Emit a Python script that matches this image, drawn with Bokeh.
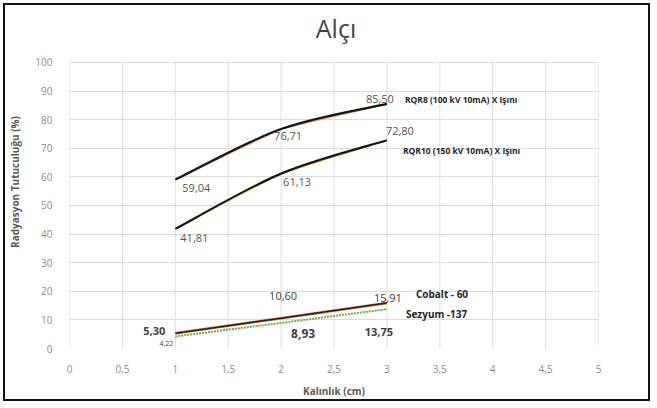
from bokeh.plotting import figure
from bokeh.models import ColumnDataSource, FixedTicker
from bokeh.core.properties import value
from bokeh.embed import file_html
from bokeh.resources import INLINE

# ---- data ----
title_text = "Alçı"
x_label = "Kalınlık (cm)"
y_label = "Radyasyon Tutuculuğu (%)"
thickness_cm = [1, 2, 3]
rqr8 = [59.04, 76.71, 85.50]
rqr10 = [41.81, 61.13, 72.80]
cobalt = [5.30, 10.60, 15.91]
sezyum = [4.22, 8.93, 13.75]
series_names = ["RQR8 (100 kV 10mA) X Işını", "RQR10 (150 kV 10mA) X Işını",
                "Cobalt - 60", "Sezyum -137"]
x_ticks = [0, 0.5, 1, 1.5, 2, 2.5, 3, 3.5, 4, 4.5, 5]
x_tick_labels = ["0", "0,5", "1", "1,5", "2", "2,5", "3", "3,5", "4", "4,5", "5"]
y_ticks = [0, 10, 20, 30, 40, 50, 60, 70, 80, 90, 100]

FONT = value("Open Sans")
Y_TOP = y_ticks[-1]
# the frame reaches above the value axis so that the chart title can sit inside it
p = figure(width=647, height=398, x_range=(0, 5), y_range=(0, Y_TOP * 1.164),
           output_backend="svg", toolbar_location=None,
           min_border_left=59, min_border_right=54, min_border_top=10, min_border_bottom=55,
           background_fill_color="white", border_fill_color="white")
p.margin = (3, 3, 3, 3)
p.styles = {"border": "2px solid #111"}
p.outline_line_color = None

# axes
p.xaxis.ticker = FixedTicker(ticks=x_ticks)
p.xaxis.major_label_overrides = {t: l for t, l in zip(x_ticks, x_tick_labels)}
p.yaxis.ticker = FixedTicker(ticks=y_ticks)
for ax in (p.xaxis, p.yaxis):
    ax.axis_line_color = None
    ax.major_tick_line_color = None
    ax.minor_tick_line_color = None
    ax.major_label_text_font = "Open Sans"
    ax.major_label_text_font_size = "10px"
    ax.major_label_text_color = "#8c8c8c"
    ax.axis_label_text_font = "Open Sans"
    ax.axis_label_text_font_size = "10px"
    ax.axis_label_text_font_style = "bold"
    ax.axis_label_text_color = "#595959"
p.xaxis.major_label_standoff = 10
p.yaxis.major_label_standoff = 11
p.xaxis.axis_label = x_label
p.yaxis.axis_label = y_label
p.xaxis.axis_label_standoff = 8
p.yaxis.axis_label_standoff = 10

# gridlines: horizontal from the grid, vertical ones only over the value range
p.ygrid.ticker = FixedTicker(ticks=y_ticks)
p.ygrid.grid_line_color = "#dcdcdc"
p.xgrid.grid_line_color = None
p.segment(x0=x_ticks, y0=[y_ticks[0]] * len(x_ticks), x1=x_ticks, y1=[Y_TOP] * len(x_ticks),
          line_color="#dcdcdc", line_width=1, level="underlay")

# title
p.text(x=[2.5], y=[Y_TOP], text=[title_text], x_offset=2, y_offset=-34,
       text_font=FONT, text_font_size="25px", text_color="#454545",
       text_align="center", text_baseline="middle")


def smooth(xs, ys):
    n = len(xs)
    x0, y0, x1, y1, cx0, cy0, cx1, cy1 = [], [], [], [], [], [], [], []
    for i in range(n - 1):
        pm = max(i - 1, 0)
        pn = min(i + 2, n - 1)
        x0.append(xs[i]); y0.append(ys[i])
        x1.append(xs[i + 1]); y1.append(ys[i + 1])
        cx0.append(xs[i] + (xs[i + 1] - xs[pm]) / 6)
        cy0.append(ys[i] + (ys[i + 1] - ys[pm]) / 6)
        cx1.append(xs[i + 1] - (xs[pn] - xs[i]) / 6)
        cy1.append(ys[i + 1] - (ys[pn] - ys[i]) / 6)
    return dict(x0=x0, y0=y0, x1=x1, y1=y1, cx0=cx0, cy0=cy0, cx1=cx1, cy1=cy1)


# thin coloured straight lines
p.line(thickness_cm, rqr8, line_color="#f4b183", line_width=1.5)
p.line(thickness_cm, rqr10, line_color="#ffd966", line_width=1.5)
p.line(thickness_cm, sezyum, line_color="#70ad47", line_width=2, line_dash="2 1")
p.line(thickness_cm, cobalt, line_color="#a0522d", line_width=2.6)

# black smoothed curves
for ys, w in ((rqr8, 2.2), (rqr10, 2.2), (cobalt, 1.0)):
    src = ColumnDataSource(smooth(thickness_cm, ys))
    p.bezier(x0="x0", y0="y0", x1="x1", y1="y1", cx0="cx0", cy0="cy0",
             cx1="cx1", cy1="cy1", source=src, line_color="#151515", line_width=w)


def fmt(v):
    return f"{v:.2f}".replace(".", ",")


# data labels with pixel offsets (x right, y down)
lab_x, lab_y, lab_t = [], [], []
for ys in (rqr8, rqr10, cobalt, sezyum):
    for xv, yv in zip(thickness_cm, ys):
        lab_x.append(xv); lab_y.append(yv); lab_t.append(fmt(yv))
lab_dx = [21, 7, -7, 19, 16, 13, -21, 2, 1, -9, 22, -8]
lab_dy = [8, 7, -5, 9, 8, -9, -2, -22, -5, 7, 11, 23]
lab_size = ["11px"] * 9 + ["7px", "12px", "11px"]
lab_style = ["normal"] * 6 + ["bold", "normal", "normal", "normal", "bold", "bold"]
lab_color = ["#555555"] * 6 + ["#404040"] * 6
lsrc = ColumnDataSource(dict(x=lab_x, y=lab_y, t=lab_t, dx=lab_dx, dy=lab_dy,
                             fs=lab_size, st=lab_style, c=lab_color))
p.text(x="x", y="y", text="t", x_offset="dx", y_offset="dy", source=lsrc,
       text_font=FONT, text_font_size="fs", text_font_style="st", text_color="c",
       text_align="center", text_baseline="middle")

# series name labels, anchored at last point
last_x = [thickness_cm[-1]] * 4
last_y = [rqr8[-1], rqr10[-1], cobalt[-1], sezyum[-1]]
name_dx = [18, 16, 29, 19]
name_dy = [-4, 10, -9, 5]
name_size = ["8.5px", "8.5px", "10px", "10px"]
nsrc = ColumnDataSource(dict(x=last_x, y=last_y, t=series_names, dx=name_dx, dy=name_dy,
                             fs=name_size))
p.text(x="x", y="y", text="t", x_offset="dx", y_offset="dy", source=nsrc,
       text_font=FONT, text_font_size="fs", text_font_style="bold", text_color="#262626",
       text_align="left", text_baseline="middle")

open("out.html", "w").write(file_html(p, INLINE))
